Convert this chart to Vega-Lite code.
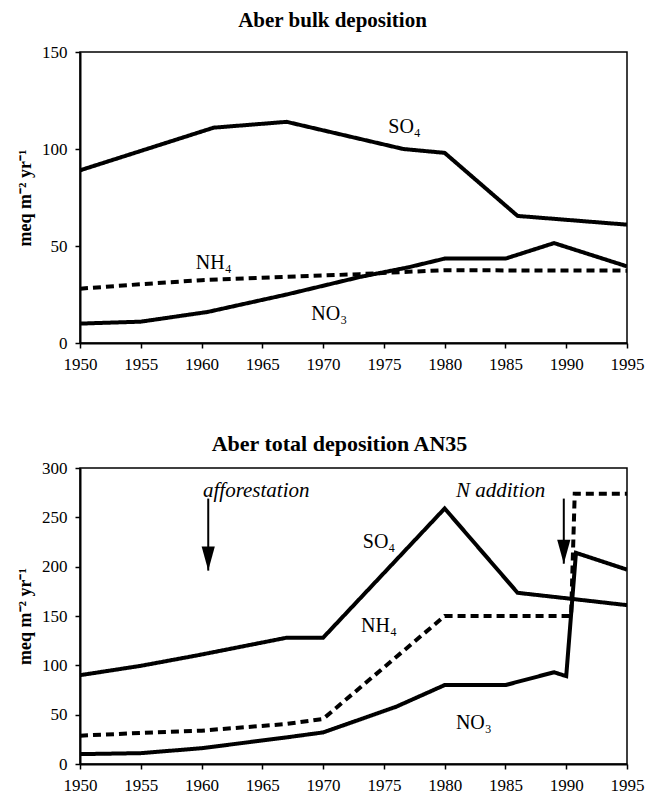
{
  "$schema": "https://vega.github.io/schema/vega-lite/v6.json",
  "autosize": {"type": "pad"},
  "padding": {"left": 15, "top": 9, "right": 0, "bottom": 0},
  "background": "white",
  "datasets": {
    "lines": [
      {"panel": "bulk", "series": "SO4", "year": 1950, "value": 89},
      {"panel": "bulk", "series": "SO4", "year": 1961, "value": 111},
      {"panel": "bulk", "series": "SO4", "year": 1967, "value": 114},
      {"panel": "bulk", "series": "SO4", "year": 1976.6, "value": 100},
      {"panel": "bulk", "series": "SO4", "year": 1980, "value": 98},
      {"panel": "bulk", "series": "SO4", "year": 1986, "value": 65.5},
      {"panel": "bulk", "series": "SO4", "year": 1995, "value": 61},
      {"panel": "bulk", "series": "NO3", "year": 1950, "value": 10},
      {"panel": "bulk", "series": "NO3", "year": 1955, "value": 11},
      {"panel": "bulk", "series": "NO3", "year": 1960.5, "value": 16},
      {"panel": "bulk", "series": "NO3", "year": 1967, "value": 25},
      {"panel": "bulk", "series": "NO3", "year": 1973, "value": 34},
      {"panel": "bulk", "series": "NO3", "year": 1977, "value": 39},
      {"panel": "bulk", "series": "NO3", "year": 1980, "value": 43.5},
      {"panel": "bulk", "series": "NO3", "year": 1985, "value": 43.5},
      {"panel": "bulk", "series": "NO3", "year": 1989, "value": 51.5},
      {"panel": "bulk", "series": "NO3", "year": 1995, "value": 39.5},
      {"panel": "bulk", "series": "NH4", "year": 1950, "value": 28},
      {"panel": "bulk", "series": "NH4", "year": 1955, "value": 30.3},
      {"panel": "bulk", "series": "NH4", "year": 1960, "value": 32.4},
      {"panel": "bulk", "series": "NH4", "year": 1967, "value": 34.1},
      {"panel": "bulk", "series": "NH4", "year": 1973, "value": 35.5},
      {"panel": "bulk", "series": "NH4", "year": 1977, "value": 36.7},
      {"panel": "bulk", "series": "NH4", "year": 1980, "value": 37.5},
      {"panel": "bulk", "series": "NH4", "year": 1995, "value": 37.3},
      {"panel": "total", "series": "SO4", "year": 1950, "value": 90},
      {"panel": "total", "series": "SO4", "year": 1955, "value": 99.5},
      {"panel": "total", "series": "SO4", "year": 1959.6, "value": 110},
      {"panel": "total", "series": "SO4", "year": 1967, "value": 128},
      {"panel": "total", "series": "SO4", "year": 1970, "value": 128},
      {"panel": "total", "series": "SO4", "year": 1980, "value": 259},
      {"panel": "total", "series": "SO4", "year": 1986, "value": 173.5},
      {"panel": "total", "series": "SO4", "year": 1990, "value": 168},
      {"panel": "total", "series": "SO4", "year": 1995, "value": 161},
      {"panel": "total", "series": "NO3", "year": 1950, "value": 10},
      {"panel": "total", "series": "NO3", "year": 1955, "value": 11},
      {"panel": "total", "series": "NO3", "year": 1960, "value": 16},
      {"panel": "total", "series": "NO3", "year": 1967, "value": 27},
      {"panel": "total", "series": "NO3", "year": 1970, "value": 32},
      {"panel": "total", "series": "NO3", "year": 1973, "value": 45},
      {"panel": "total", "series": "NO3", "year": 1976, "value": 58},
      {"panel": "total", "series": "NO3", "year": 1980, "value": 80},
      {"panel": "total", "series": "NO3", "year": 1985, "value": 80},
      {"panel": "total", "series": "NO3", "year": 1989, "value": 93},
      {"panel": "total", "series": "NO3", "year": 1990, "value": 89},
      {"panel": "total", "series": "NO3", "year": 1990.8, "value": 214},
      {"panel": "total", "series": "NO3", "year": 1995, "value": 197},
      {"panel": "total", "series": "NH4", "year": 1950, "value": 28.7},
      {"panel": "total", "series": "NH4", "year": 1955, "value": 31.5},
      {"panel": "total", "series": "NH4", "year": 1960, "value": 33.8},
      {"panel": "total", "series": "NH4", "year": 1967, "value": 40.6},
      {"panel": "total", "series": "NH4", "year": 1970, "value": 45.7},
      {"panel": "total", "series": "NH4", "year": 1980, "value": 150},
      {"panel": "total", "series": "NH4", "year": 1990.4, "value": 150},
      {"panel": "total", "series": "NH4", "year": 1990.7, "value": 274},
      {"panel": "total", "series": "NH4", "year": 1995, "value": 274}
    ],
    "labels": [
      {"panel": "bulk", "text": "SO₄", "year": 1976.7, "value": 111.5},
      {"panel": "bulk", "text": "NH₄", "year": 1961, "value": 41},
      {"panel": "bulk", "text": "NO₃", "year": 1970.5, "value": 15},
      {"panel": "total", "text": "SO₄", "year": 1974.6, "value": 225},
      {"panel": "total", "text": "NH₄", "year": 1974.6, "value": 140},
      {"panel": "total", "text": "NO₃", "year": 1982.4, "value": 42}
    ],
    "notes": [
      {"panel": "total", "text": "afforestation", "year": 1964.5, "value": 277},
      {"panel": "total", "text": "N addition", "year": 1984.6, "value": 277}
    ],
    "arrows": [
      {"panel": "total", "year": 1960.55, "top": 269, "tip": 196},
      {"panel": "total", "year": 1989.8, "top": 269, "tip": 203}
    ]
  },
  "vconcat": [
    {
      "width": 547,
      "height": 291,
      "title": {"text": "Aber bulk deposition", "dx": -21, "offset": 12, "fontSize": 21},
      "layer": [
        {
          "data": {"name": "lines"},
          "transform": [{"filter": "datum.panel === 'bulk'"}],
          "mark": {"type": "line", "color": "black", "clip": true},
          "encoding": {
            "x": {"field": "year", "type": "quantitative", "scale": {"domain": [1950, 1995], "nice": false, "zero": false},
              "axis": {"values": [1950, 1955, 1960, 1965, 1970, 1975, 1980, 1985, 1990, 1995], "format": "d", "title": null, "labelFlush": false, "labelOverlap": false}},
            "y": {"field": "value", "type": "quantitative", "scale": {"domain": [0, 150], "nice": false},
              "axis": {"values": [0, 50, 100, 150], "title": "meq m⁻² yr⁻¹"}},
            "detail": {"field": "series"},
            "strokeDash": {"field": "series", "type": "nominal", "scale": {"domain": ["SO4", "NO3", "NH4"], "range": [[1, 0], [1, 0], [8, 5]]}, "legend": null},
            "strokeWidth": {"field": "series", "type": "nominal", "scale": {"domain": ["SO4", "NO3", "NH4"], "range": [4, 4, 3.5]}, "legend": null}
          }
        },
        {
          "data": {"name": "labels"},
          "transform": [{"filter": "datum.panel === 'bulk'"}],
          "mark": {"type": "text", "fontSize": 20, "color": "black", "align": "center", "baseline": "middle"},
          "encoding": {
            "x": {"field": "year", "type": "quantitative"},
            "y": {"field": "value", "type": "quantitative"},
            "text": {"field": "text"}
          }
        }
      ]
    },
    {
      "width": 547,
      "height": 296,
      "title": {"text": "Aber total deposition AN35", "dx": -14, "offset": 3, "fontSize": 22},
      "layer": [
        {
          "data": {"name": "lines"},
          "transform": [{"filter": "datum.panel === 'total'"}],
          "mark": {"type": "line", "color": "black", "clip": true},
          "encoding": {
            "x": {"field": "year", "type": "quantitative", "scale": {"domain": [1950, 1995], "nice": false, "zero": false},
              "axis": {"values": [1950, 1955, 1960, 1965, 1970, 1975, 1980, 1985, 1990, 1995], "format": "d", "title": null, "labelFlush": false, "labelOverlap": false}},
            "y": {"field": "value", "type": "quantitative", "scale": {"domain": [0, 300], "nice": false},
              "axis": {"values": [0, 50, 100, 150, 200, 250, 300], "title": "meq m⁻² yr⁻¹"}},
            "detail": {"field": "series"},
            "strokeDash": {"field": "series", "type": "nominal", "scale": {"domain": ["SO4", "NO3", "NH4"], "range": [[1, 0], [1, 0], [9, 5]]}, "legend": null},
            "strokeWidth": {"field": "series", "type": "nominal", "scale": {"domain": ["SO4", "NO3", "NH4"], "range": [4, 4, 3.5]}, "legend": null}
          }
        },
        {
          "data": {"name": "labels"},
          "transform": [{"filter": "datum.panel === 'total'"}],
          "mark": {"type": "text", "fontSize": 20, "color": "black", "align": "center", "baseline": "middle"},
          "encoding": {
            "x": {"field": "year", "type": "quantitative"},
            "y": {"field": "value", "type": "quantitative"},
            "text": {"field": "text"}
          }
        },
        {
          "data": {"name": "notes"},
          "mark": {"type": "text", "fontSize": 21, "fontStyle": "italic", "color": "black", "align": "center", "baseline": "middle"},
          "encoding": {
            "x": {"field": "year", "type": "quantitative"},
            "y": {"field": "value", "type": "quantitative"},
            "text": {"field": "text"}
          }
        },
        {
          "data": {"name": "arrows"},
          "mark": {"type": "rule", "color": "black", "strokeWidth": 2},
          "encoding": {
            "x": {"field": "year", "type": "quantitative"},
            "y": {"field": "top", "type": "quantitative"},
            "y2": {"field": "tip"}
          }
        },
        {
          "data": {"name": "arrows"},
          "mark": {"type": "point", "shape": "M-0.55,-1L0.55,-1L0,1Z", "size": 576, "filled": true, "color": "black", "opacity": 1, "yOffset": -12},
          "encoding": {
            "x": {"field": "year", "type": "quantitative"},
            "y": {"field": "tip", "type": "quantitative"}
          }
        }
      ]
    }
  ],
  "spacing": 125,
  "bounds": "flush",
  "config": {
    "font": "Liberation Serif",
    "view": {"stroke": "black", "strokeWidth": 1.5},
    "title": {"font": "Liberation Serif", "fontSize": 21, "fontWeight": "bold", "color": "black", "anchor": "middle"},
    "axis": {
      "grid": false,
      "domainColor": "black",
      "domainWidth": 2,
      "tickColor": "black",
      "tickWidth": 1.5,
      "tickSize": 5,
      "labelPadding": 8,
      "labelFont": "Liberation Serif",
      "labelFontSize": 17,
      "labelColor": "black",
      "titleFont": "Liberation Serif",
      "titleFontSize": 18,
      "titleFontWeight": "bold",
      "titleColor": "black",
      "titlePadding": 7
    }
  }
}
